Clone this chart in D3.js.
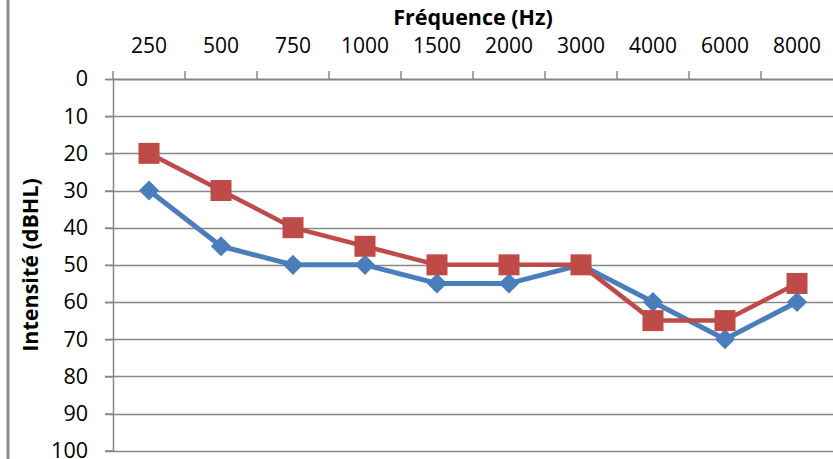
<html>
<head>
  <script src="https://d3js.org/d3.v7.min.js"></script>
  <style>
    body { margin: 0; background: #fff; }
    text { font-family: "Open Sans", sans-serif; }
  </style>
</head>
<body>
<script>
var frequencies = ["250", "500", "750", "1000", "1500", "2000", "3000", "4000", "6000", "8000"];
var blueValues = [30, 45, 50, 50, 55, 55, 50, 60, 70, 60];
var redValues = [20, 30, 40, 45, 50, 50, 50, 65, 65, 55];
var yTicks = [0, 10, 20, 30, 40, 50, 60, 70, 80, 90, 100];

var width = 833, height = 459;
var plotLeft = 113, plotRight = 833, plotTop = 79, plotBottom = 450.7;

var svg = d3.select("body").append("svg")
  .attr("width", width)
  .attr("height", height);

// chart frame edge on the left
svg.append("line")
  .attr("x1", 8).attr("x2", 8)
  .attr("y1", 0).attr("y2", height)
  .attr("stroke", "#8c8c8c").attr("stroke-width", 3);

var x = d3.scaleBand().domain(frequencies).range([plotLeft, plotRight]);
var y = d3.scaleLinear().domain([0, 100]).range([plotTop, plotBottom]);

// gridlines
svg.append("g").selectAll("line")
  .data(yTicks.slice(1))
  .enter().append("line")
  .attr("x1", plotLeft - 8).attr("x2", plotRight)
  .attr("y1", function(d){ return Math.round(y(d)) + 0.5; })
  .attr("y2", function(d){ return Math.round(y(d)) + 0.5; })
  .attr("stroke", "#878787").attr("stroke-width", 1.5);

// y axis
var yAxis = svg.append("g")
  .attr("transform", "translate(" + plotLeft + ",0)")
  .call(d3.axisLeft(y).tickValues(yTicks).tickSize(8).tickPadding(17));
yAxis.select(".domain").attr("stroke", "#878787").attr("stroke-width", 1.5);
yAxis.selectAll(".tick line").attr("stroke", "#878787").attr("stroke-width", 1.5);
yAxis.selectAll("text").attr("font-size", 21.5).attr("fill", "#000").attr("font-family", "Open Sans");

// top x axis
var xAxis = svg.append("g")
  .attr("transform", "translate(0," + plotTop + ")")
  .call(d3.axisTop(x).tickSize(0).tickPadding(26));
xAxis.select(".domain").attr("stroke", "#878787").attr("stroke-width", 2);
xAxis.selectAll("text").attr("font-size", 21).attr("fill", "#000").attr("font-family", "Open Sans");

// tick marks between categories
svg.append("g").selectAll("line")
  .data(frequencies)
  .enter().append("line")
  .attr("x1", function(d){ return x(d); })
  .attr("x2", function(d){ return x(d); })
  .attr("y1", plotTop - 8).attr("y2", plotTop)
  .attr("stroke", "#878787").attr("stroke-width", 1.5);

// titles
svg.append("text")
  .attr("x", 473).attr("y", 25)
  .attr("text-anchor", "middle")
  .attr("font-size", 21.5).attr("font-weight", "bold")
  .text("Fréquence (Hz)");

svg.append("text")
  .attr("transform", "translate(38,265) rotate(-90)")
  .attr("text-anchor", "middle")
  .attr("font-size", 21.5).attr("font-weight", "bold")
  .text("Intensité (dBHL)");

var line = d3.line()
  .x(function(d, i){ return x(frequencies[i]) + x.bandwidth() / 2; })
  .y(function(d){ return y(d); });

// blue series
svg.append("path")
  .datum(blueValues)
  .attr("d", line)
  .attr("fill", "none")
  .attr("stroke", "#4a7ebb").attr("stroke-width", 5)
  .attr("stroke-linejoin", "round");

svg.append("g").selectAll("path")
  .data(blueValues)
  .enter().append("path")
  .attr("d", d3.symbol().type(d3.symbolDiamond2).size(260))
  .attr("transform", function(d, i){
    return "translate(" + (x(frequencies[i]) + x.bandwidth() / 2) + "," + y(d) + ")";
  })
  .attr("fill", "#4a7ebb");

// red series
svg.append("path")
  .datum(redValues)
  .attr("d", line)
  .attr("fill", "none")
  .attr("stroke", "#be4b48").attr("stroke-width", 4.5)
  .attr("stroke-linejoin", "round");

svg.append("g").selectAll("rect")
  .data(redValues)
  .enter().append("rect")
  .attr("x", function(d, i){ return x(frequencies[i]) + x.bandwidth() / 2 - 10.5; })
  .attr("y", function(d){ return y(d) - 10.5; })
  .attr("width", 21).attr("height", 21)
  .attr("fill", "#be4b48");
</script>
</body>
</html>
